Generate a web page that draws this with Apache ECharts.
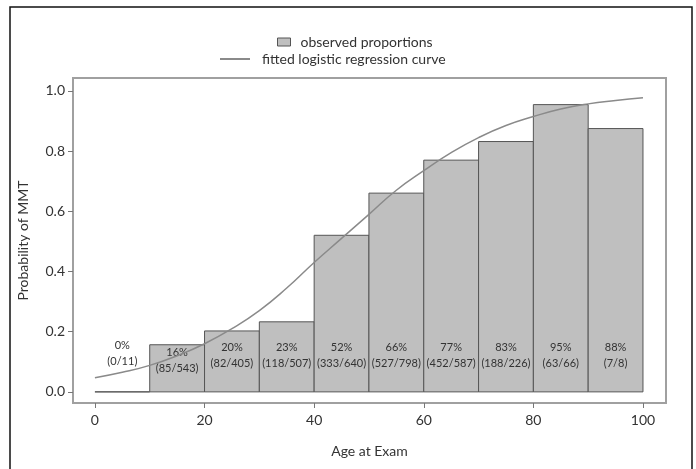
<!DOCTYPE html>
<html>
<head>
<meta charset="utf-8">
<script src="https://cdn.jsdelivr.net/npm/echarts@6/dist/echarts.min.js"></script>
<style>html,body{margin:0;padding:0;background:#fff;}#c{width:696px;height:469px;}</style>
</head>
<body>
<div id="c"></div>
<script>
// Bins (age at exam, start of each 10-year bin)
const binStart = [0, 10, 20, 30, 40, 50, 60, 70, 80, 90];
const binWidth = 10;
// Observed counts
const numer = [0, 85, 82, 118, 333, 527, 452, 188, 63, 7];
const denom = [11, 543, 405, 507, 640, 798, 587, 226, 66, 8];
// Fitted logistic regression curve
const curveAge  = [0, 5, 10, 15, 20, 25, 30, 35, 40, 45, 50, 55, 60, 65, 70, 75, 80, 85, 90, 95, 100];
const curveProb = [0.047, 0.065, 0.088, 0.12, 0.16, 0.21, 0.27, 0.345, 0.43, 0.51, 0.59, 0.67, 0.735, 0.795, 0.845, 0.885, 0.915, 0.94, 0.957, 0.968, 0.977];
// Tick labels
const xTicks = [0, 20, 40, 60, 80, 100];
const yTicks = [0, 0.2, 0.4, 0.6, 0.8, 1.0];

const FONT = 'Lato';
const barData = binStart.map((s, i) => [s, s + binWidth, numer[i] / denom[i], numer[i], denom[i]]);

function renderBar(params, api) {
  const x0 = api.value(0), x1 = api.value(1), v = api.value(2);
  const n = api.value(3), d = api.value(4);
  const p0 = api.coord([x0, 0]);
  const p1 = api.coord([x1, v]);
  const ly = v < 0.1 ? 0.128 : Math.min(0.12, v - 0.052);
  const pc = api.coord([(x0 + x1) / 2, ly]);
  return {
    type: 'group',
    children: [
      { type: 'rect', shape: { x: p0[0], y: p1[1], width: p1[0] - p0[0], height: p0[1] - p1[1] },
        style: { fill: '#bfbfbf', stroke: '#555', lineWidth: 1 } },
      { type: 'text', x: pc[0], y: pc[1], z2: 10,
        style: { text: Math.round(v * 100) + '%\n(' + n + '/' + d + ')', fill: '#333',
                 fontSize: 11, fontFamily: FONT, align: 'center', verticalAlign: 'middle', lineHeight: 16 } }
    ]
  };
}

const chart = echarts.init(document.getElementById('c'));
chart.setOption({
  backgroundColor: '#fff',
  animation: false,
  graphic: [{ type: 'rect', shape: { x: 10, y: 7, width: 682, height: 480 },
              style: { fill: 'none', stroke: '#111', lineWidth: 1.5 }, silent: true }],
  legend: [
    { data: [{ name: 'observed proportions', icon: 'rect',
               itemStyle: { color: '#bfbfbf', borderColor: '#555', borderWidth: 1 } }],
      left: 277, top: 35, padding: 0, itemWidth: 13, itemHeight: 8,
      textStyle: { fontSize: 14, color: '#333', fontFamily: FONT, padding: [0, 0, 0, 5] } },
    { data: [{ name: 'fitted logistic regression curve', icon: 'rect',
               itemStyle: { color: '#8a8a8a' } }],
      left: 220, top: 52, padding: 0, itemWidth: 30, itemHeight: 2,
      textStyle: { fontSize: 14, color: '#333', fontFamily: FONT, padding: [0, 0, 0, 7] } }
  ],
  grid: { left: 73, top: 78, width: 593, height: 325, show: true, borderColor: '#a0a0a0', borderWidth: 2, backgroundColor: '#fff' },
  xAxis: {
    type: 'value', min: -4, max: 104.2,
    name: 'Age at Exam', nameLocation: 'middle', nameGap: 41,
    nameTextStyle: { fontSize: 14, color: '#333', fontFamily: FONT },
    axisLine: { show: false, onZero: false },
    axisTick: { show: true, length: 5, customValues: xTicks, lineStyle: { color: '#777' } },
    axisLabel: { customValues: xTicks, fontSize: 14, color: '#333', fontFamily: FONT, margin: 10 },
    splitLine: { show: false }
  },
  yAxis: {
    type: 'value', min: -0.037, max: 1.043,
    name: 'Probability of MMT', nameLocation: 'middle', nameGap: 43,
    nameTextStyle: { fontSize: 14, color: '#333', fontFamily: FONT },
    axisLine: { show: false, onZero: false },
    axisTick: { show: true, length: 5, customValues: yTicks, lineStyle: { color: '#777' } },
    axisLabel: { customValues: yTicks, fontSize: 14, color: '#333', fontFamily: FONT, margin: 8,
                 formatter: v => v.toFixed(1) },
    splitLine: { show: false }
  },
  series: [
    { name: 'observed proportions', type: 'custom', renderItem: renderBar, data: barData,
      encode: { x: [0, 1], y: 2 }, itemStyle: { color: '#bfbfbf' }, z: 2 },
    { name: 'fitted logistic regression curve', type: 'line', smooth: true, showSymbol: false,
      data: curveAge.map((a, i) => [a, curveProb[i]]),
      lineStyle: { color: '#8a8a8a', width: 1.5 }, itemStyle: { color: '#8a8a8a' }, z: 3 }
  ]
});
</script>
</body>
</html>
